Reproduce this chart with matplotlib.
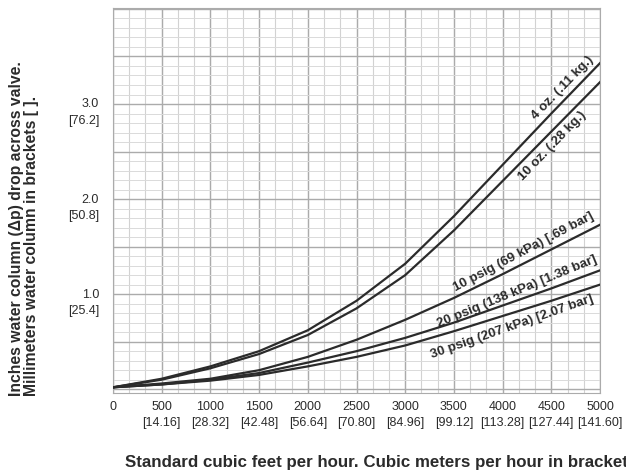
import matplotlib
matplotlib.use("Agg")
import matplotlib.pyplot as plt
import matplotlib.transforms as mtransforms
import numpy as np

plt.rcParams['font.family'] = ['Liberation Sans', 'DejaVu Sans']

# flow in standard cubic feet per hour
flow = [0, 500, 1000, 1500, 2000, 2500, 3000, 3500, 4000, 4500, 5000]

# pressure drop in inches water column
drop_4oz = [0.02, 0.11, 0.24, 0.40, 0.62, 0.93, 1.32, 1.82, 2.36, 2.90, 3.43]
drop_10oz = [0.02, 0.10, 0.22, 0.37, 0.57, 0.85, 1.20, 1.67, 2.19, 2.71, 3.23]
drop_10psig = [0.02, 0.06, 0.11, 0.20, 0.34, 0.52, 0.73, 0.96, 1.21, 1.47, 1.73]
drop_20psig = [0.02, 0.05, 0.10, 0.17, 0.28, 0.40, 0.54, 0.70, 0.88, 1.06, 1.25]
drop_30psig = [0.02, 0.05, 0.09, 0.15, 0.24, 0.34, 0.46, 0.61, 0.77, 0.93, 1.10]

curve_names = ["4 oz. (.11 kg.)", "10 oz. (.28 kg.)",
               "10 psig (69 kPa) [.69 bar]", "20 psig (138 kPa) [1.38 bar]",
               "30 psig (207 kPa) [2.07 bar]"]

x_ticks = [0, 500, 1000, 1500, 2000, 2500, 3000, 3500, 4000, 4500, 5000]
x_metric = ["", "14.16", "28.32", "42.48", "56.64", "70.80", "84.96",
            "99.12", "113.28", "127.44", "141.60"]
y_ticks = [1.0, 2.0, 3.0]
y_metric = ["25.4", "50.8", "76.2"]

# label placement (data coords) and angle for each curve
label_pos = [(4621, 3.17), (4508, 2.56), (4211, 1.44), (4149, 1.03), (4098, 0.65)]
label_rot = [46, 46, 27.8, 22.4, 19.3]

ink = "#2b2b2b"

fig = plt.figure(figsize=(6.26, 4.76), dpi=100)
ax = fig.add_axes([113 / 626, 1 - 393 / 476, 487 / 626, 385 / 476])
ax.set_xlim(0, 5000)
ax.set_ylim(-0.04, 4.01)

# graph paper grid
for gx in np.arange(0, 5001, 500 / 3):
    ax.axvline(gx, color="#d2d2d2", lw=0.8, zorder=0)
for gx in np.arange(0, 5001, 500):
    ax.axvline(gx, color="#ababab", lw=1.0, zorder=0)
for gy in np.arange(0, 4.01, 0.1):
    ax.axhline(gy, color="#dadada", lw=0.7, zorder=0)
for gy in np.arange(0, 4.01, 0.5):
    ax.axhline(gy, color="#ababab", lw=1.0, zorder=0)

for series in [drop_4oz, drop_10oz, drop_10psig, drop_20psig, drop_30psig]:
    ax.plot(flow, series, color=ink, lw=1.6, zorder=3)

for name, (lx, ly), rot in zip(curve_names, label_pos, label_rot):
    ax.text(lx, ly, name, rotation=rot, rotation_mode="anchor",
            ha="center", va="center", fontsize=9.6, fontweight="bold",
            color=ink, zorder=4)

for s in ax.spines.values():
    s.set_color("#ababab")

ax.set_xticks(x_ticks)
ax.set_xticklabels([str(v) if m == "" else f"{v}\n[{m}]" for v, m in zip(x_ticks, x_metric)],
                   fontsize=9, color=ink)
ax.set_yticks(y_ticks)
ax.set_yticklabels([f"{v:.1f}\n[{m}]" for v, m in zip(y_ticks, y_metric)],
                   fontsize=9, color=ink, va="top")
ax.tick_params(axis="both", length=0)
ax.tick_params(axis="x", pad=6)
ax.tick_params(axis="y", pad=10)
for lab in ax.get_xticklabels():
    lab.set_linespacing(1.45)
shift = mtransforms.ScaledTranslation(0, 4 / 72, fig.dpi_scale_trans)
for lab in ax.get_yticklabels():
    lab.set_linespacing(1.5)
    lab.set_transform(lab.get_transform() + shift)

fig.text(125 / 626, 1 - 462 / 476,
         "Standard cubic feet per hour. Cubic meters per hour in brackets [ ].",
         ha="left", va="center", fontsize=12.2, fontweight="bold", color=ink)
fig.text(24 / 626, 1 - 396 / 476,
         "Inches water column (\u0394p) drop across valve.\nMillimeters water column in brackets [ ].",
         rotation=90, ha="center", va="bottom", multialignment="left",
         fontsize=11.3, fontweight="bold", color=ink, linespacing=1.0)

fig.savefig("out.png", dpi=100)
